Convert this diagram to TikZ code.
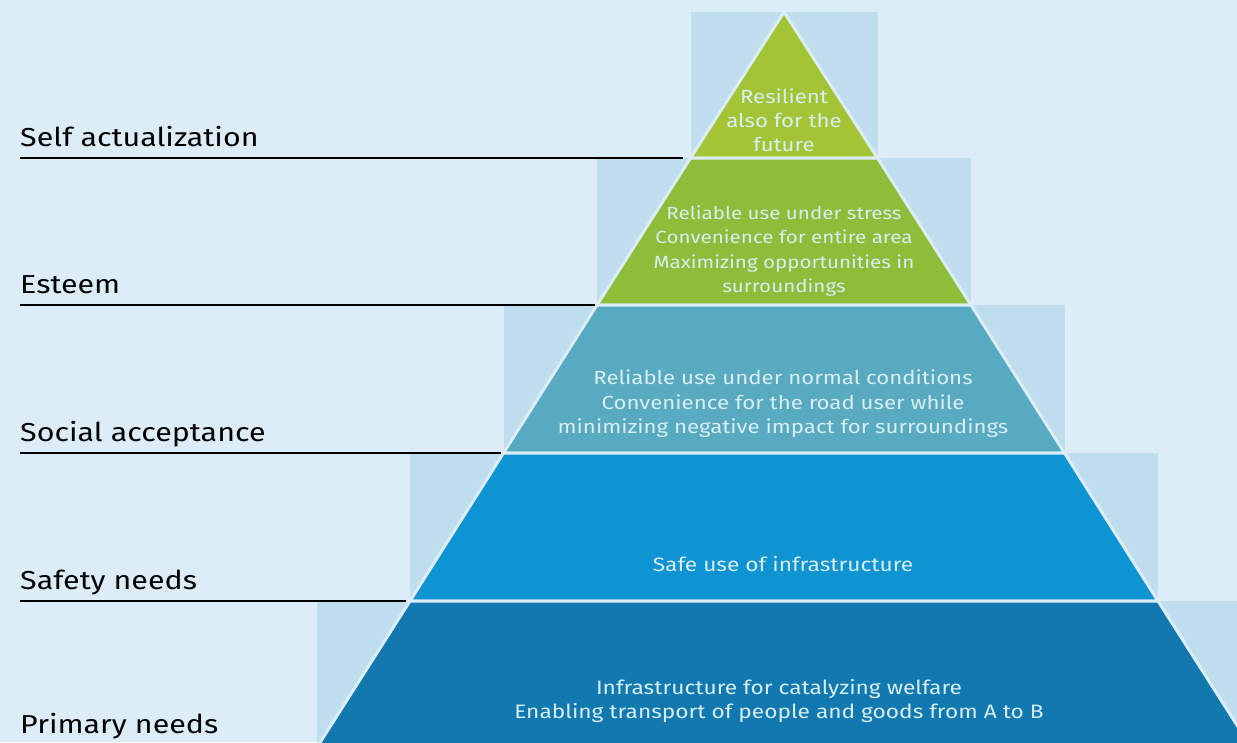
\documentclass[tikz,border=0pt]{standalone}
\usepackage{fontspec}
\setmainfont[FakeStretch=1.17]{Fira Sans}
\usepackage{tikz}

\definecolor{bgblue}{HTML}{DDEDF7}
\definecolor{boxblue}{HTML}{BEDDED}
\definecolor{lvlone}{HTML}{A3C535}
\definecolor{lvltwo}{HTML}{8DBE3A}
\definecolor{lvlthree}{HTML}{58AAC0}
\definecolor{lvlfour}{HTML}{0E93D3}
\definecolor{lvlfive}{HTML}{1179B0}
\definecolor{paletext}{HTML}{D8EEF2}

\begin{document}
\begin{tikzpicture}[x=1pt,y=-1pt,
    level/.style={draw=bgblue,line width=3pt,line join=round},
    inner/.style={text=paletext,align=center,font=\fontsize{19.4}{24.5}\selectfont},
    need/.style={anchor=base west,inner sep=0pt,font=\fontsize{26}{30}\selectfont},
    rule/.style={black,line width=1.5pt}]
    \useasboundingbox (0,0) rectangle (1237,742);
    \clip (0,0) rectangle (1237,742);
    \fill[bgblue] (0,0) rectangle (1237,742);

    % boxes behind the levels
    \fill[boxblue] (690.5,12) rectangle (877.5,158);
    \fill[boxblue] (597,158) rectangle (971,305);
    \fill[boxblue] (503.5,305) rectangle (1064.5,453);
    \fill[boxblue] (410,453) rectangle (1158,601);
    \fill[boxblue] (316.5,601) rectangle (1251.5,760);

    % the pyramid
    \filldraw[level,fill=lvlone] (784,12) -- (690.5,158) -- (877.5,158) -- cycle;
    \filldraw[level,fill=lvltwo] (690.5,158) -- (597,305) -- (971,305) -- (877.5,158) -- cycle;
    \filldraw[level,fill=lvlthree] (597,305) -- (503.5,453) -- (1064.5,453) -- (971,305) -- cycle;
    \filldraw[level,fill=lvlfour] (503.5,453) -- (410,601) -- (1158,601) -- (1064.5,453) -- cycle;
    \filldraw[level,fill=lvlfive] (410,601) -- (316.5,748) -- (1251.5,748) -- (1158,601) -- cycle;

    \node at (784,120) [inner,font=\fontsize{19}{24}\selectfont] (res) {Resilient\\also for the\\future};
    \node at (784,251) [inner,font=\fontsize{17.6}{24.5}\selectfont] (rel) {Reliable use under stress\\Convenience for entire area\\Maximizing opportunities in\\surroundings};
    \node at (783,404) [inner,font=\fontsize{19}{24.5}\selectfont] (soc) {Reliable use under normal conditions\\Convenience for the road user while\\minimizing negative impact for surroundings};
    \node at (783,564) [inner] (saf) {Safe use of infrastructure};
    \node at (779,701) [inner] (inf) {Infrastructure for catalyzing welfare\\Enabling transport of people and goods from A to B};

    % labels on the left
    \node at (20,146) [need] (self) {Self actualization};
    \node at (20,293) [need] (est) {Esteem};
    \node at (20,441) [need] (acc) {Social acceptance};
    \node at (20,589) [need] (safn) {Safety needs};
    \node at (20,733) [need] (prim) {Primary needs};

    \coordinate (a1) at (20,158);  \coordinate (b1) at (683,158);
    \coordinate (a2) at (20,305);  \coordinate (b2) at (595,305);
    \coordinate (a3) at (20,453);  \coordinate (b3) at (501,453);
    \coordinate (a4) at (20,601);  \coordinate (b4) at (406,601);
    \draw[rule] (a1) -- (b1);
    \draw[rule] (a2) -- (b2);
    \draw[rule] (a3) -- (b3);
    \draw[rule] (a4) -- (b4);
\end{tikzpicture}
\end{document}
